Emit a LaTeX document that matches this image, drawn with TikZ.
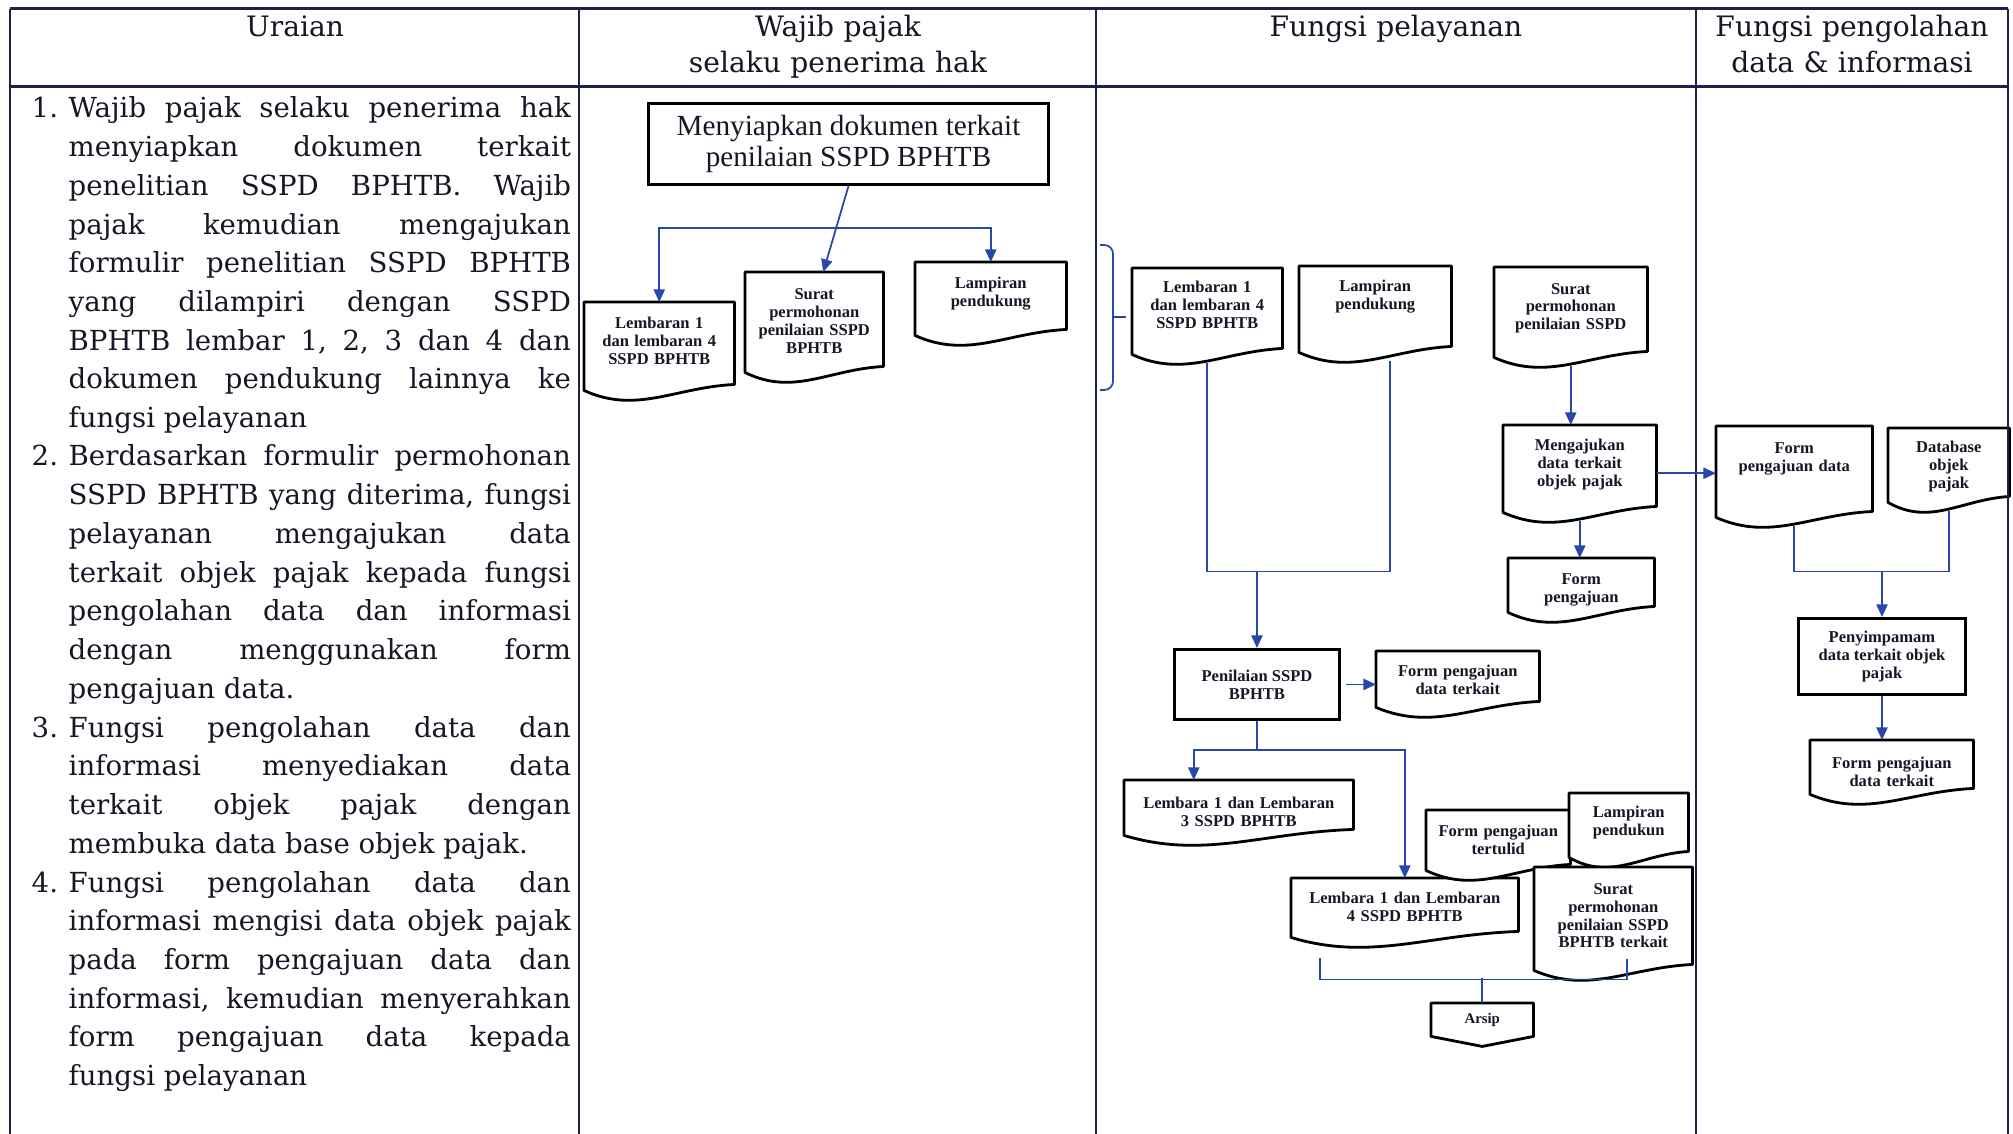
\documentclass[tikz,border=0pt]{standalone}
\usepackage{fontspec}
\setmainfont{DejaVu Serif}
\newfontfamily\boxfont{Liberation Serif}
\usetikzlibrary{arrows.meta,calc,backgrounds}
\definecolor{tabline}{RGB}{28,32,74}
\definecolor{flowblue}{RGB}{38,72,168}
\definecolor{ink}{RGB}{22,22,38}
\newcommand{\docfont}{\boxfont\bfseries\fontsize{4.7}{5.1}\selectfont}
\newcommand{\uraianfont}{\fontsize{7.85}{11}\selectfont}
\hyphenpenalty=10000
\exhyphenpenalty=10000
\tikzset{
  tabrule/.style={draw=tabline,line width=0.85pt},
  tabcol/.style={draw=tabline,line width=0.6pt},
  colhead/.style={anchor=base,text width=4cm,align=center,inner sep=0pt,font=\fontsize{8}{10.2}\selectfont,text=ink},
  uitem/.style={anchor=base west,inner sep=0pt,text width=5.02cm,align=justify,font=\uraianfont,text=ink},
  unum/.style={anchor=base west,inner sep=0pt,font=\uraianfont,text=ink},
  procbox/.style={draw=black,line width=0.8pt,fill=white,anchor=north west,inner sep=0pt,align=center,text=ink},
  docnode/.style={anchor=north west,inner sep=0pt,align=center,font=\docfont,text=ink},
  tpad/.style={execute at end node={\par\vspace*{#1}}},
  docline/.style={draw=black,line width=0.8pt,fill=white,line join=round},
  flow/.style={draw=flowblue,line width=0.5pt},
  farrow/.style={flow,-{Triangle[length=3.6pt,width=3.2pt]}}
}
\begin{document}
\begin{tikzpicture}[x=0.01cm,y=-0.01cm]
        \useasboundingbox (0,0) rectangle (2013,1134);
        %% table
        \draw[tabrule] (10,9) -- (2008,9);
        \draw[tabrule] (10,87) -- (2008,87);
        \foreach \cx in {10,579,1096,1696,2008}
            \draw[tabcol] (\cx,9) -- (\cx,1134);
        \node[colhead] (hUr) at (295,37) {Uraian};
        \node[colhead] (hWp) at (838,37) {Wajib pajak\\selaku penerima hak};
        \node[colhead] (hFp) at (1396,37) {Fungsi pelayanan};
        \node[colhead] (hFd) at (1852,37) {Fungsi pengolahan\\data \& informasi};
        %% uraian
        \node[unum] (n1) at (31,118) {1.};
        \node[uitem] (u1) at (68,118) {Wajib~pajak~selaku~penerima~hak\linebreak
            menyiapkan~dokumen~terkait\linebreak
            penelitian~SSPD~BPHTB.~Wajib\linebreak
            pajak~kemudian~mengajukan\linebreak
            formulir~penelitian~SSPD~BPHTB\linebreak
            yang~dilampiri~dengan~SSPD\linebreak
            BPHTB~lembar~1,~2,~3~dan~4~dan\linebreak
            dokumen~pendukung~lainnya~ke\linebreak
            fungsi~pelayanan};
        \node[unum] (n2) at (31,466) {2.};
        \node[uitem] (u2) at (68,466) {Berdasarkan~formulir~permohonan\linebreak
            SSPD~BPHTB~yang~diterima,~fungsi\linebreak
            pelayanan~mengajukan~data\linebreak
            terkait~objek~pajak~kepada~fungsi\linebreak
            pengolahan~data~dan~informasi\linebreak
            dengan~menggunakan~form\linebreak
            pengajuan~data.};
        \node[unum] (n3) at (31,737) {3.};
        \node[uitem] (u3) at (68,737) {Fungsi~pengolahan~data~dan\linebreak
            informasi~menyediakan~data\linebreak
            terkait~objek~pajak~dengan\linebreak
            membuka~data~base~objek~pajak.};
        \node[unum] (n4) at (31,892) {4.};
        \node[uitem] (u4) at (68,892) {Fungsi~pengolahan~data~dan\linebreak
            informasi~mengisi~data~objek~pajak\linebreak
            pada~form~pengajuan~data~dan\linebreak
            informasi,~kemudian~menyerahkan\linebreak
            form~pengajuan~data~kepada\linebreak
            fungsi~pelayanan};
        %% wajib pajak
        \node[procbox,minimum width=4cm,minimum height=0.81cm,font=\boxfont\fontsize{8.3}{8.6}\selectfont] (mnyp) at (647,102) {Menyiapkan dokumen terkait\\penilaian SSPD BPHTB};
        \node[docnode,text width=1.49cm,minimum height=0.96cm,tpad=5.7pt] (lemB) at (584,302) {Lembaran 1\\dan lembaran 4\\SSPD BPHTB};
        \node[docnode,text width=1.37cm,minimum height=1.08cm,tpad=3.4pt] (suratB) at (745,272) {Surat\\permohonan\\penilaian SSPD\\BPHTB};
        \node[docnode,text width=1.50cm,minimum height=0.81cm,tpad=5.7pt] (lampB) at (915,262) {Lampiran\\pendukung};
        %% fungsi pelayanan
        \node[docnode,text width=1.49cm,minimum height=0.94cm,tpad=6pt] (lemC1) at (1132,268) {Lembaran 1\\dan lembaran 4\\SSPD BPHTB};
        \node[docnode,text width=1.51cm,minimum height=0.94cm,tpad=10pt] (lampC1) at (1299,266) {Lampiran\\pendukung};
        \node[docnode,text width=1.52cm,minimum height=0.98cm,tpad=4.8pt] (suratC1) at (1494,267) {Surat\\permohonan\\penilaian SSPD};
        \node[docnode,text width=1.52cm,minimum height=0.95cm,tpad=4.8pt] (mengaj) at (1503,425) {Mengajukan\\data terkait\\objek pajak};
        \node[docnode,text width=1.45cm,minimum height=0.62cm] (formC1) at (1508,558) {Form\\pengajuan};
        \node[procbox,minimum width=1.65cm,minimum height=0.70cm,font=\docfont] (penil) at (1173,648) {Penilaian SSPD\\BPHTB};
        \node[docnode,text width=1.62cm,minimum height=0.64cm,tpad=2.3pt] (formC2) at (1376,651) {Form pengajuan\\data terkait};
        \node[docnode,text width=2.28cm,minimum height=0.63cm] (lemC2) at (1124,780) {Lembara 1 dan Lembaran\\3 SSPD BPHTB};
        \node[docnode,text width=2.26cm,minimum height=0.67cm,tpad=2.8pt] (lemC3) at (1291,878) {Lembara 1 dan Lembaran\\4 SSPD BPHTB};
        \node[docnode,text width=1.43cm,minimum height=0.68cm,tpad=2.8pt] (tertulis) at (1426,810) {Form pengajuan\\tertulid};
        \node[docnode,text width=1.18cm,minimum height=0.72cm,tpad=4pt] (lampC2) at (1569,793) {Lampiran\\pendukun};
        \node[docnode,text width=1.57cm,minimum height=1.11cm,tpad=4.3pt] (suratC2) at (1534,867) {Surat\\permohonan\\penilaian SSPD\\BPHTB terkait};
        \node[docnode,text width=1.01cm,minimum height=0.32cm,font=\boxfont\bfseries\fontsize{4.2}{5}\selectfont] (arsip) at (1431,1003) {Arsip};
        %% fungsi pengolahan data
        \node[docnode,text width=1.55cm,minimum height=0.99cm,tpad=9.7pt] (formD) at (1716,426) {Form\\pengajuan data};
        \node[docnode,text width=1.20cm,minimum height=0.82cm,tpad=1.7pt] (dbase) at (1888,428) {Database\\objek\\pajak};
        \node[procbox,minimum width=1.67cm,minimum height=0.76cm,font=\docfont] (simpan) at (1797,617) {Penyimpamam\\data terkait objek\\pajak};
        \node[docnode,text width=1.62cm,minimum height=0.62cm] (formD2) at (1810,740) {Form pengajuan\\data terkait};
        %% document outlines
        \begin{scope}[on background layer]
        \foreach \d in {lemB,suratB,lampB,lemC1,lampC1,suratC1,mengaj,formC1,formC2,lemC2,lemC3,tertulis,lampC2,suratC2,formD,dbase,formD2}
            \draw[docline] (\d.north west) -- (\d.north east) -- ($(\d.south east)+(0,-15)$)
                .. controls ($(\d.south west)!0.6!(\d.south east)+(0,-12)$) and ($(\d.south west)!0.35!(\d.south east)+(0,15)$)
                .. ($(\d.south west)+(0,-9)$) -- cycle;
        \draw[docline] (arsip.north west) -- (arsip.north east) -- (arsip.south east)
            -- ($(arsip.south)+(0,10)$) -- (arsip.south west) -- cycle;
        \end{scope}
        %% flows, wajib pajak
        \coordinate (sb) at ($(suratB.north)+(9,0)$);
        \draw[farrow] (mnyp.south) -- (sb);
        \coordinate (jn) at ($(mnyp.south)!0.49!(sb)$);
        \draw[farrow] (jn) -| (lemB.north);
        \draw[farrow] (jn) -| (lampB.north);
        %% flows, fungsi pelayanan
        \draw[flow,rounded corners=2.5pt] (1100,245) -- (1113,245) -- (1113,390) -- (1100,390);
        \draw[flow] (1113,317) -- (1126,317);
        \draw[flow] (lemC1.south) -- ++(0,208) coordinate (mgA) -| ($(lampC1.south)+(15,0)$);
        \draw[farrow] (mgA -| penil.north) -- (penil.north);
        \draw[farrow] (suratC1.south) -- (suratC1.south |- mengaj.north);
        \draw[farrow] (mengaj.south) -- (mengaj.south |- formC1.north);
        \draw[farrow] (mengaj.east) -- (mengaj.east -| formD.west);
        \draw[farrow,shorten <=1.5pt] (penil.east) -- (penil.east -| formC2.west);
        \draw[flow] (penil.south) -- ++(0,29) coordinate (spl);
        \draw[farrow] (spl) -| ($(lemC2.north)+(-45,0)$);
        \draw[farrow] (spl) -| (lemC3.north);
        \draw[flow] ($(lemC3.south west)+(29,12)$) |- ($(suratC2.south)+(14,0)$) -- ++(0,-20);
        \draw[flow] (arsip.north) -- ++(0,-25);
        %% flows, pengolahan data
        \draw[flow] (formD.south) -- ++(0,45) coordinate (mgD) -| (dbase.south);
        \draw[farrow] (mgD -| simpan.north) -- (simpan.north);
        \draw[farrow] (simpan.south) -- (simpan.south |- formD2.north);
    \end{tikzpicture}
\end{document}
